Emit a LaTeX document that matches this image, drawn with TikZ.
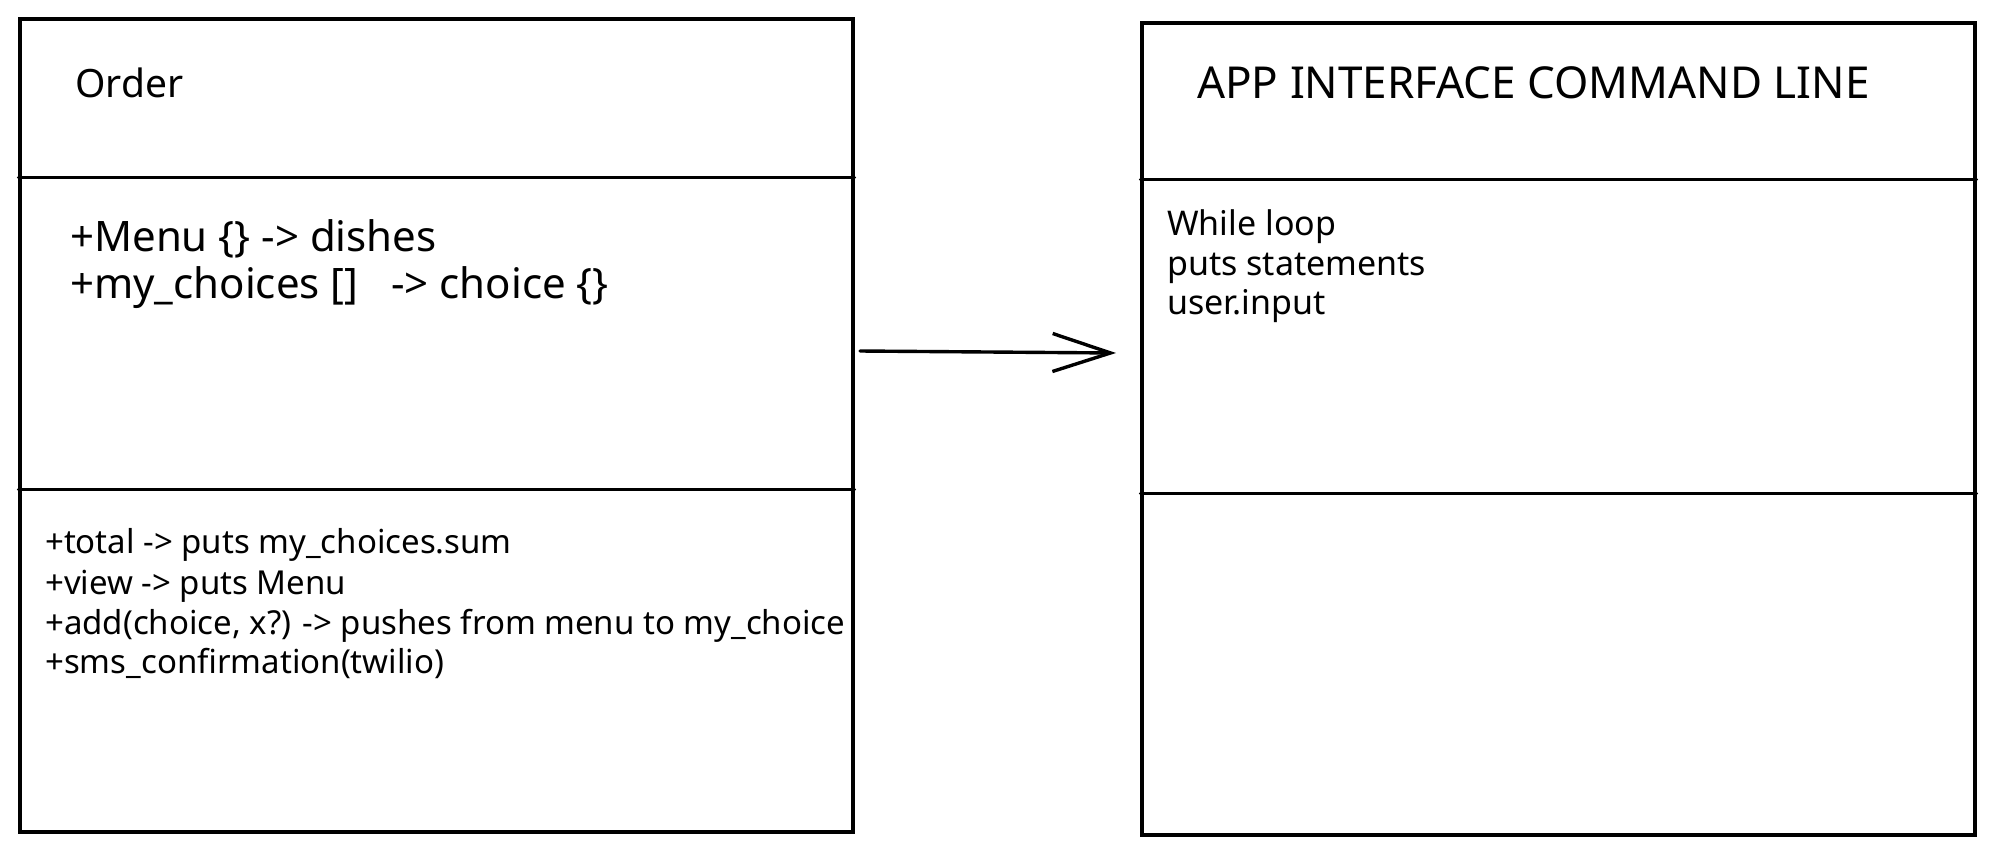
\documentclass[tikz,border=0pt]{standalone}
\usepackage{fontspec}
\setmainfont{Noto Sans}
\usetikzlibrary{arrows.meta}
\tikzset{
  ink/.style={line width=3.2pt, black, line cap=round},
  umlbox/.style={draw, ink, minimum width=833pt, inner sep=0pt},
  txt/.style={inner sep=0pt, anchor=mid west, font=#1},
  conn/.style={ink, line width=3.4pt, -{Straight Barb[length=58pt,width=38pt,line width=3.4pt]}}
}
\begin{document}
\begin{tikzpicture}[x=1pt,y=-1pt]
\useasboundingbox (0,0) rectangle (2000,854);
% boxes
\node[umlbox, minimum height=813pt] (order) at (436.5,425.5) {};
\node[umlbox, minimum height=812pt] (app) at (1558.5,429) {};
% dividers
\draw[ink] ([yshift=-160pt]order.north west) -- ([yshift=-160pt]order.north east);
\draw[ink] ([yshift=-472pt]order.north west) -- ([yshift=-472pt]order.north east);
\draw[ink] ([yshift=-158pt]app.north west) -- ([yshift=-158pt]app.north east);
\draw[ink] ([yshift=-472pt]app.north west) -- ([yshift=-472pt]app.north east);
% texts left
\node[txt={\fontsize{39}{44}\selectfont}] (t1) at (75,95) {Order};
\node[txt={\fontsize{42}{50}\selectfont}] (t2) at (70,249) {+Menu \{\} -> dishes};
\node[txt={\fontsize{42}{50}\selectfont}] (t3) at (70,296) {+my\_choices []\ \ \ -> choice \{\}};
\node[txt={\fontsize{33}{40}\selectfont}] (t4) at (45,551) {+total -> puts my\_choices.sum};
\node[txt={\fontsize{33}{40}\selectfont}] (t5) at (45,592) {+view -> puts Menu};
\node[txt={\fontsize{33}{40}\selectfont}] (t6) at (45,632) {+add(choice, x?) -> pushes from menu to my\_choice};
\node[txt={\fontsize{33}{40}\selectfont}] (t7) at (45,671) {+sms\_confirmation(twilio)};
% texts right
\node[txt={\fontsize{44}{50}\selectfont}] (r1) at (1197,96) {APP INTERFACE COMMAND LINE};
\node[txt={\fontsize{34}{40}\selectfont}] (r2) at (1167,233) {While loop};
\node[txt={\fontsize{34}{40}\selectfont}] (r3) at (1167,273) {puts statements};
\node[txt={\fontsize{34}{40}\selectfont}] (r4) at (1167,312) {user.input};
% arrow
\coordinate (a1) at (860,351);
\coordinate (a2) at (1116,353);
\draw[conn] (a1) -- (a2);
\end{tikzpicture}
\end{document}
